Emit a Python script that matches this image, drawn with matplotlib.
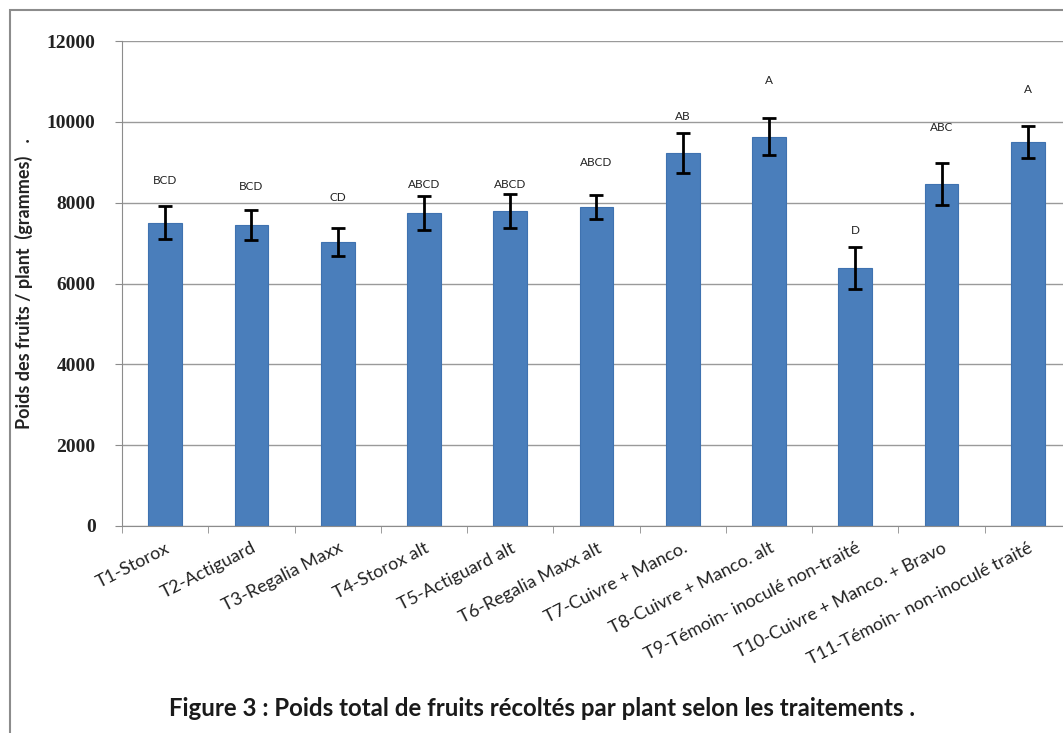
import matplotlib

matplotlib.use("Agg")
import matplotlib.pyplot as plt
from matplotlib.patches import Rectangle
import numpy as np

plt.rcParams["font.family"] = ["Lato", "DejaVu Sans"]

TREATMENTS = [
    "T1-Storox",
    "T2-Actiguard",
    "T3-Regalia Maxx",
    "T4-Storox alt",
    "T5-Actiguard alt",
    "T6-Regalia Maxx alt",
    "T7-Cuivre + Manco.",
    "T8-Cuivre + Manco. alt",
    "T9-Témoin- inoculé non-traité",
    "T10-Cuivre + Manco. + Bravo",
    "T11-Témoin- non-inoculé traité",
]
MEAN_WEIGHT = [7500, 7450, 7030, 7750, 7800, 7900, 9230, 9630, 6380, 8460, 9500]
ERROR = [410, 370, 350, 420, 420, 300, 490, 460, 520, 520, 400]
GROUPS = ["BCD", "BCD", "CD", "ABCD", "ABCD", "ABCD", "AB", "A", "D", "ABC", "A"]
GROUP_HEIGHT = [8560, 8390, 8140, 8440, 8450, 9000, 10120, 11030, 7320, 9850, 10790]

YTICKS = [0, 2000, 4000, 6000, 8000, 10000, 12000]

fig = plt.figure(figsize=(10.63, 7.33), dpi=100)
# grey frame around the whole picture (runs off the right and bottom edges)
fig.patches.append(
    Rectangle((10 / 1063, -0.05), 1.2, 1 - 10 / 733 + 0.05, transform=fig.transFigure,
              fill=False, edgecolor="#8c8c8c", linewidth=1.5)
)
ax = fig.add_axes([122 / 1063, 1 - 526 / 733, 949 / 1063, 485 / 733])

x = np.arange(len(TREATMENTS))
ax.bar(x, MEAN_WEIGHT, width=0.39, color="#4a7ebb", edgecolor="#3f72b0", linewidth=0.8, zorder=2)
ax.errorbar(x, MEAN_WEIGHT, yerr=ERROR, fmt="none", ecolor="black", elinewidth=2,
            capsize=5, capthick=2, zorder=3)
for xi, g, h in zip(x, GROUPS, GROUP_HEIGHT):
    ax.text(xi, h, g, ha="center", va="center", fontsize=8.5, color="#222222")

ax.set_xlim(-0.5, len(TREATMENTS) - 0.5)
ax.set_ylim(0, 12000)
ax.set_yticks(YTICKS)
ax.set_yticklabels([str(v) for v in YTICKS], fontsize=14, fontweight="bold",
                   family=["Liberation Serif"], color="#222222")
ax.yaxis.grid(True, color="#9a9a9a", linewidth=1)
ax.set_axisbelow(True)

ax.set_xticks(x)
ax.set_xticklabels(TREATMENTS, rotation=27, ha="right", rotation_mode="anchor",
                   fontsize=13, color="#222222")
ax.set_xticks(np.arange(-0.5, len(TREATMENTS), 1), minor=True)
ax.tick_params(axis="x", which="major", length=0, pad=10)
ax.tick_params(axis="x", which="minor", length=5, color="#8c8c8c")
ax.tick_params(axis="y", length=5, color="#8c8c8c", pad=14)

for side in ["top", "right"]:
    ax.spines[side].set_visible(False)
ax.spines["left"].set_color("#8c8c8c")
ax.spines["bottom"].set_color("#8c8c8c")

ax.set_ylabel("Poids des fruits / plant  (grammes)   .", fontsize=13, fontweight="bold",
              color="#222222", labelpad=10)

fig.text(542 / 1063, 1 - 708 / 733,
         "Figure 3 : Poids total de fruits récoltés par plant selon les traitements .",
         ha="center", va="center", fontsize=17.3, fontweight="bold", color="#1a1a1a")

fig.savefig("out.png", dpi=100)
